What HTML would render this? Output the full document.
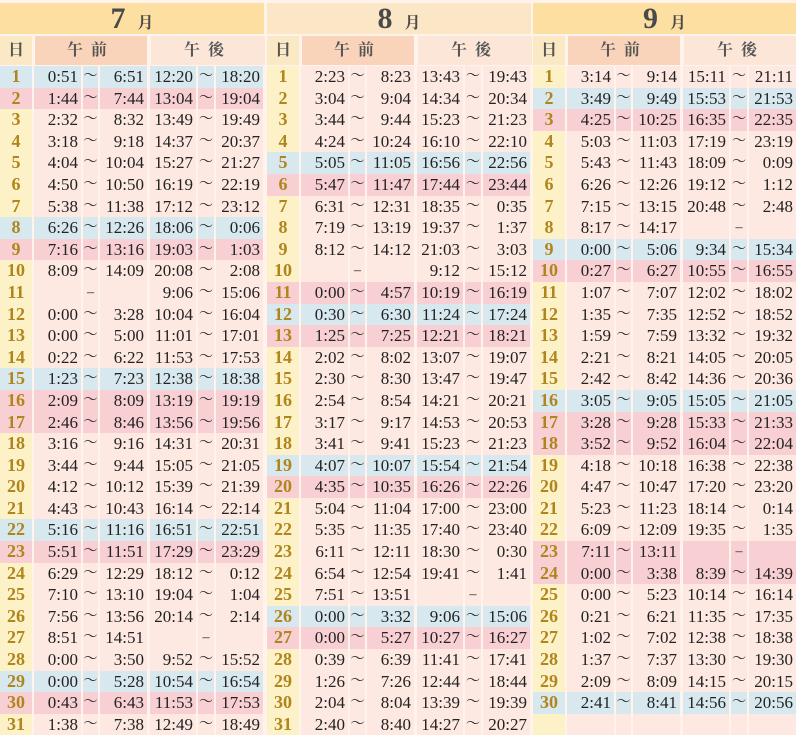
<!DOCTYPE html>
<html><head><meta charset="utf-8"><style>
*{margin:0;padding:0;box-sizing:border-box}
body{width:796px;height:735px;background:#fff3ec;overflow:hidden;font-family:"Liberation Serif","Noto Serif CJK SC",serif;position:relative}
.m{position:absolute;top:3px;width:264px}
.t{height:31px;background:#fddfa2;text-align:center;font-weight:bold;color:#4a4a4a;line-height:31px}
.t b{font-size:30px;margin-right:12px}.t span{font-size:16px}
.h{display:grid;grid-template-columns:32px 113px 116px;column-gap:2px;height:29px;margin-top:2px;margin-bottom:1px}
.h div{background:#fbe8c4;text-align:center;line-height:29px;font-weight:bold;color:#555;font-size:16px;letter-spacing:8px}
.h div:first-child{letter-spacing:0}
.h .a{background:#f9d4ba;margin-left:1px}.h .p{background:#fbe6d8;margin-left:2px}
.r{display:grid;grid-template-columns:32px 47px 15px 47px 47px 16px 47px;column-gap:2px;height:21.6px;font-size:17px;line-height:21.6px;color:#222}
.r i{font-style:normal;background:#fde8e2;text-align:right;padding-right:3px;white-space:nowrap}
.r i:nth-child(1){background:#fdf1c8;text-align:center;color:#b0861c;font-weight:bold;padding:0;font-size:18px}
.r i:nth-child(3),.r i:nth-child(6){text-align:center;padding:0;font-size:14px;overflow:visible;display:flex;justify-content:center}
.r i:nth-child(5){margin-left:1px}
.b i,.b i:nth-child(1){background:#d8e8ef}
.p i,.p i:nth-child(1){background:#f8d0d4}
</style></head><body>

<div class="m" style="left:0">
<div class="t"><b>7</b><span>月</span></div>
<div class="h"><div>日</div><div class="a">午前</div><div class="p">午後</div></div>
<div class="r b"><i>1</i><i>0:51</i><i>～</i><i>6:51</i><i>12:20</i><i>～</i><i>18:20</i></div>
<div class="r p"><i>2</i><i>1:44</i><i>～</i><i>7:44</i><i>13:04</i><i>～</i><i>19:04</i></div>
<div class="r"><i>3</i><i>2:32</i><i>～</i><i>8:32</i><i>13:49</i><i>～</i><i>19:49</i></div>
<div class="r"><i>4</i><i>3:18</i><i>～</i><i>9:18</i><i>14:37</i><i>～</i><i>20:37</i></div>
<div class="r"><i>5</i><i>4:04</i><i>～</i><i>10:04</i><i>15:27</i><i>～</i><i>21:27</i></div>
<div class="r"><i>6</i><i>4:50</i><i>～</i><i>10:50</i><i>16:19</i><i>～</i><i>22:19</i></div>
<div class="r"><i>7</i><i>5:38</i><i>～</i><i>11:38</i><i>17:12</i><i>～</i><i>23:12</i></div>
<div class="r b"><i>8</i><i>6:26</i><i>～</i><i>12:26</i><i>18:06</i><i>～</i><i>0:06</i></div>
<div class="r p"><i>9</i><i>7:16</i><i>～</i><i>13:16</i><i>19:03</i><i>～</i><i>1:03</i></div>
<div class="r"><i>10</i><i>8:09</i><i>～</i><i>14:09</i><i>20:08</i><i>～</i><i>2:08</i></div>
<div class="r"><i>11</i><i></i><i>–</i><i></i><i>9:06</i><i>～</i><i>15:06</i></div>
<div class="r"><i>12</i><i>0:00</i><i>～</i><i>3:28</i><i>10:04</i><i>～</i><i>16:04</i></div>
<div class="r"><i>13</i><i>0:00</i><i>～</i><i>5:00</i><i>11:01</i><i>～</i><i>17:01</i></div>
<div class="r"><i>14</i><i>0:22</i><i>～</i><i>6:22</i><i>11:53</i><i>～</i><i>17:53</i></div>
<div class="r b"><i>15</i><i>1:23</i><i>～</i><i>7:23</i><i>12:38</i><i>～</i><i>18:38</i></div>
<div class="r p"><i>16</i><i>2:09</i><i>～</i><i>8:09</i><i>13:19</i><i>～</i><i>19:19</i></div>
<div class="r p"><i>17</i><i>2:46</i><i>～</i><i>8:46</i><i>13:56</i><i>～</i><i>19:56</i></div>
<div class="r"><i>18</i><i>3:16</i><i>～</i><i>9:16</i><i>14:31</i><i>～</i><i>20:31</i></div>
<div class="r"><i>19</i><i>3:44</i><i>～</i><i>9:44</i><i>15:05</i><i>～</i><i>21:05</i></div>
<div class="r"><i>20</i><i>4:12</i><i>～</i><i>10:12</i><i>15:39</i><i>～</i><i>21:39</i></div>
<div class="r"><i>21</i><i>4:43</i><i>～</i><i>10:43</i><i>16:14</i><i>～</i><i>22:14</i></div>
<div class="r b"><i>22</i><i>5:16</i><i>～</i><i>11:16</i><i>16:51</i><i>～</i><i>22:51</i></div>
<div class="r p"><i>23</i><i>5:51</i><i>～</i><i>11:51</i><i>17:29</i><i>～</i><i>23:29</i></div>
<div class="r"><i>24</i><i>6:29</i><i>～</i><i>12:29</i><i>18:12</i><i>～</i><i>0:12</i></div>
<div class="r"><i>25</i><i>7:10</i><i>～</i><i>13:10</i><i>19:04</i><i>～</i><i>1:04</i></div>
<div class="r"><i>26</i><i>7:56</i><i>～</i><i>13:56</i><i>20:14</i><i>～</i><i>2:14</i></div>
<div class="r"><i>27</i><i>8:51</i><i>～</i><i>14:51</i><i></i><i>–</i><i></i></div>
<div class="r"><i>28</i><i>0:00</i><i>～</i><i>3:50</i><i>9:52</i><i>～</i><i>15:52</i></div>
<div class="r b"><i>29</i><i>0:00</i><i>～</i><i>5:28</i><i>10:54</i><i>～</i><i>16:54</i></div>
<div class="r p"><i>30</i><i>0:43</i><i>～</i><i>6:43</i><i>11:53</i><i>～</i><i>17:53</i></div>
<div class="r"><i>31</i><i>1:38</i><i>～</i><i>7:38</i><i>12:49</i><i>～</i><i>18:49</i></div>
</div>

<div class="m" style="left:267px">
<div class="t" style="background:#fbe7c6"><b>8</b><span>月</span></div>
<div class="h"><div>日</div><div class="a">午前</div><div class="p">午後</div></div>
<div class="r"><i>1</i><i>2:23</i><i>～</i><i>8:23</i><i>13:43</i><i>～</i><i>19:43</i></div>
<div class="r"><i>2</i><i>3:04</i><i>～</i><i>9:04</i><i>14:34</i><i>～</i><i>20:34</i></div>
<div class="r"><i>3</i><i>3:44</i><i>～</i><i>9:44</i><i>15:23</i><i>～</i><i>21:23</i></div>
<div class="r"><i>4</i><i>4:24</i><i>～</i><i>10:24</i><i>16:10</i><i>～</i><i>22:10</i></div>
<div class="r b"><i>5</i><i>5:05</i><i>～</i><i>11:05</i><i>16:56</i><i>～</i><i>22:56</i></div>
<div class="r p"><i>6</i><i>5:47</i><i>～</i><i>11:47</i><i>17:44</i><i>～</i><i>23:44</i></div>
<div class="r"><i>7</i><i>6:31</i><i>～</i><i>12:31</i><i>18:35</i><i>～</i><i>0:35</i></div>
<div class="r"><i>8</i><i>7:19</i><i>～</i><i>13:19</i><i>19:37</i><i>～</i><i>1:37</i></div>
<div class="r"><i>9</i><i>8:12</i><i>～</i><i>14:12</i><i>21:03</i><i>～</i><i>3:03</i></div>
<div class="r"><i>10</i><i></i><i>–</i><i></i><i>9:12</i><i>～</i><i>15:12</i></div>
<div class="r p"><i>11</i><i>0:00</i><i>～</i><i>4:57</i><i>10:19</i><i>～</i><i>16:19</i></div>
<div class="r b"><i>12</i><i>0:30</i><i>～</i><i>6:30</i><i>11:24</i><i>～</i><i>17:24</i></div>
<div class="r p"><i>13</i><i>1:25</i><i>～</i><i>7:25</i><i>12:21</i><i>～</i><i>18:21</i></div>
<div class="r"><i>14</i><i>2:02</i><i>～</i><i>8:02</i><i>13:07</i><i>～</i><i>19:07</i></div>
<div class="r"><i>15</i><i>2:30</i><i>～</i><i>8:30</i><i>13:47</i><i>～</i><i>19:47</i></div>
<div class="r"><i>16</i><i>2:54</i><i>～</i><i>8:54</i><i>14:21</i><i>～</i><i>20:21</i></div>
<div class="r"><i>17</i><i>3:17</i><i>～</i><i>9:17</i><i>14:53</i><i>～</i><i>20:53</i></div>
<div class="r"><i>18</i><i>3:41</i><i>～</i><i>9:41</i><i>15:23</i><i>～</i><i>21:23</i></div>
<div class="r b"><i>19</i><i>4:07</i><i>～</i><i>10:07</i><i>15:54</i><i>～</i><i>21:54</i></div>
<div class="r p"><i>20</i><i>4:35</i><i>～</i><i>10:35</i><i>16:26</i><i>～</i><i>22:26</i></div>
<div class="r"><i>21</i><i>5:04</i><i>～</i><i>11:04</i><i>17:00</i><i>～</i><i>23:00</i></div>
<div class="r"><i>22</i><i>5:35</i><i>～</i><i>11:35</i><i>17:40</i><i>～</i><i>23:40</i></div>
<div class="r"><i>23</i><i>6:11</i><i>～</i><i>12:11</i><i>18:30</i><i>～</i><i>0:30</i></div>
<div class="r"><i>24</i><i>6:54</i><i>～</i><i>12:54</i><i>19:41</i><i>～</i><i>1:41</i></div>
<div class="r"><i>25</i><i>7:51</i><i>～</i><i>13:51</i><i></i><i>–</i><i></i></div>
<div class="r b"><i>26</i><i>0:00</i><i>～</i><i>3:32</i><i>9:06</i><i>～</i><i>15:06</i></div>
<div class="r p"><i>27</i><i>0:00</i><i>～</i><i>5:27</i><i>10:27</i><i>～</i><i>16:27</i></div>
<div class="r"><i>28</i><i>0:39</i><i>～</i><i>6:39</i><i>11:41</i><i>～</i><i>17:41</i></div>
<div class="r"><i>29</i><i>1:26</i><i>～</i><i>7:26</i><i>12:44</i><i>～</i><i>18:44</i></div>
<div class="r"><i>30</i><i>2:04</i><i>～</i><i>8:04</i><i>13:39</i><i>～</i><i>19:39</i></div>
<div class="r"><i>31</i><i>2:40</i><i>～</i><i>8:40</i><i>14:27</i><i>～</i><i>20:27</i></div>
</div>

<div class="m" style="left:533px;width:263px">
<div class="t"><b>9</b><span>月</span></div>
<div class="h"><div>日</div><div class="a">午前</div><div class="p">午後</div></div>
<div class="r"><i>1</i><i>3:14</i><i>～</i><i>9:14</i><i>15:11</i><i>～</i><i>21:11</i></div>
<div class="r b"><i>2</i><i>3:49</i><i>～</i><i>9:49</i><i>15:53</i><i>～</i><i>21:53</i></div>
<div class="r p"><i>3</i><i>4:25</i><i>～</i><i>10:25</i><i>16:35</i><i>～</i><i>22:35</i></div>
<div class="r"><i>4</i><i>5:03</i><i>～</i><i>11:03</i><i>17:19</i><i>～</i><i>23:19</i></div>
<div class="r"><i>5</i><i>5:43</i><i>～</i><i>11:43</i><i>18:09</i><i>～</i><i>0:09</i></div>
<div class="r"><i>6</i><i>6:26</i><i>～</i><i>12:26</i><i>19:12</i><i>～</i><i>1:12</i></div>
<div class="r"><i>7</i><i>7:15</i><i>～</i><i>13:15</i><i>20:48</i><i>～</i><i>2:48</i></div>
<div class="r"><i>8</i><i>8:17</i><i>～</i><i>14:17</i><i></i><i>–</i><i></i></div>
<div class="r b"><i>9</i><i>0:00</i><i>～</i><i>5:06</i><i>9:34</i><i>～</i><i>15:34</i></div>
<div class="r p"><i>10</i><i>0:27</i><i>～</i><i>6:27</i><i>10:55</i><i>～</i><i>16:55</i></div>
<div class="r"><i>11</i><i>1:07</i><i>～</i><i>7:07</i><i>12:02</i><i>～</i><i>18:02</i></div>
<div class="r"><i>12</i><i>1:35</i><i>～</i><i>7:35</i><i>12:52</i><i>～</i><i>18:52</i></div>
<div class="r"><i>13</i><i>1:59</i><i>～</i><i>7:59</i><i>13:32</i><i>～</i><i>19:32</i></div>
<div class="r"><i>14</i><i>2:21</i><i>～</i><i>8:21</i><i>14:05</i><i>～</i><i>20:05</i></div>
<div class="r"><i>15</i><i>2:42</i><i>～</i><i>8:42</i><i>14:36</i><i>～</i><i>20:36</i></div>
<div class="r b"><i>16</i><i>3:05</i><i>～</i><i>9:05</i><i>15:05</i><i>～</i><i>21:05</i></div>
<div class="r p"><i>17</i><i>3:28</i><i>～</i><i>9:28</i><i>15:33</i><i>～</i><i>21:33</i></div>
<div class="r p"><i>18</i><i>3:52</i><i>～</i><i>9:52</i><i>16:04</i><i>～</i><i>22:04</i></div>
<div class="r"><i>19</i><i>4:18</i><i>～</i><i>10:18</i><i>16:38</i><i>～</i><i>22:38</i></div>
<div class="r"><i>20</i><i>4:47</i><i>～</i><i>10:47</i><i>17:20</i><i>～</i><i>23:20</i></div>
<div class="r"><i>21</i><i>5:23</i><i>～</i><i>11:23</i><i>18:14</i><i>～</i><i>0:14</i></div>
<div class="r"><i>22</i><i>6:09</i><i>～</i><i>12:09</i><i>19:35</i><i>～</i><i>1:35</i></div>
<div class="r p"><i>23</i><i>7:11</i><i>～</i><i>13:11</i><i></i><i>–</i><i></i></div>
<div class="r p"><i>24</i><i>0:00</i><i>～</i><i>3:38</i><i>8:39</i><i>～</i><i>14:39</i></div>
<div class="r"><i>25</i><i>0:00</i><i>～</i><i>5:23</i><i>10:14</i><i>～</i><i>16:14</i></div>
<div class="r"><i>26</i><i>0:21</i><i>～</i><i>6:21</i><i>11:35</i><i>～</i><i>17:35</i></div>
<div class="r"><i>27</i><i>1:02</i><i>～</i><i>7:02</i><i>12:38</i><i>～</i><i>18:38</i></div>
<div class="r"><i>28</i><i>1:37</i><i>～</i><i>7:37</i><i>13:30</i><i>～</i><i>19:30</i></div>
<div class="r"><i>29</i><i>2:09</i><i>～</i><i>8:09</i><i>14:15</i><i>～</i><i>20:15</i></div>
<div class="r b"><i>30</i><i>2:41</i><i>～</i><i>8:41</i><i>14:56</i><i>～</i><i>20:56</i></div>
<div class="r"><i></i><i></i><i></i><i></i><i></i><i></i><i></i></div>
</div>

</body></html>
